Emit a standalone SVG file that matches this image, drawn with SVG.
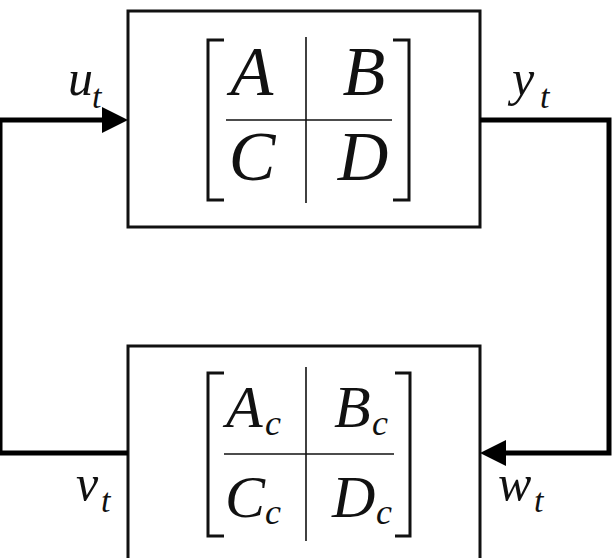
<svg xmlns="http://www.w3.org/2000/svg" width="612" height="558" viewBox="0 0 612 558">
<style>
.box{fill:#fff;stroke:#111;stroke-width:3}
.thin{stroke:#111;stroke-width:1.6;fill:none}
.brk{stroke:#111;stroke-width:3;fill:none}
.wire{stroke:#000;stroke-width:5;fill:none;stroke-linejoin:miter}
text{font-family:"Liberation Serif","DejaVu Serif","Noto Serif",serif;font-style:italic;fill:#111}
.big{font-size:70px}
.mid{font-size:60px}
.lab{font-size:50px}
.sub{font-size:34px}
.sub2{font-size:36px}
</style>
<defs>
<marker id="arr" markerUnits="userSpaceOnUse" markerWidth="27" markerHeight="27" refX="0" refY="13" orient="auto">
<path d="M0,0 L26,13 L0,26 z" fill="#000"/>
</marker>
</defs>
<g id="plant">
<rect class="box" x="128" y="11" width="352" height="216"/>
<path class="brk" d="M224,40 H208 V200 H224"/>
<path class="brk" d="M393,40 H409 V200 H393"/>
<line class="thin" x1="306" y1="37" x2="306" y2="203"/>
<line class="thin" x1="226" y1="120" x2="392" y2="120"/>
<text class="big" x="252" y="95" text-anchor="middle" font-family="Liberation Serif, serif" font-style="italic">A</text>
<text class="big" x="364" y="95" text-anchor="middle">B</text>
<text class="big" x="252" y="180" text-anchor="middle">C</text>
<text class="big" x="363" y="180" text-anchor="middle">D</text>
</g>
<g id="controller">
<rect class="box" x="128" y="346" width="352" height="230"/>
<path class="brk" d="M224,373 H208 V536 H224"/>
<path class="brk" d="M395,373 H410 V536 H395"/>
<line class="thin" x1="306" y1="367" x2="306" y2="541"/>
<line class="thin" x1="224" y1="454" x2="394" y2="454"/>
<text class="mid" x="226" y="427">A</text>
<text class="sub2" x="265" y="435">c</text>
<text class="mid" x="334" y="427">B</text>
<text class="sub2" x="372" y="435">c</text>
<text class="mid" x="225" y="517">C</text>
<text class="sub2" x="265" y="524">c</text>
<text class="mid" x="332" y="517">D</text>
<text class="sub2" x="376" y="524">c</text>
</g>
<g id="connectors">
<path class="wire" d="M128,453 H0 V120 H102" marker-end="url(#arr)"/>
<path class="wire" d="M480,120 H609 V453 H506" marker-end="url(#arr)"/>
<text class="lab" x="68" y="95">u</text>
<text class="sub" x="92" y="108">t</text>
<text class="lab" x="512" y="95">y</text>
<text class="sub" x="540" y="108">t</text>
<text class="lab" x="76" y="500">v</text>
<text class="sub" x="101" y="512">t</text>
<text class="lab" x="498" y="500">w</text>
<text class="sub" x="534" y="512">t</text>
</g>
</svg>
